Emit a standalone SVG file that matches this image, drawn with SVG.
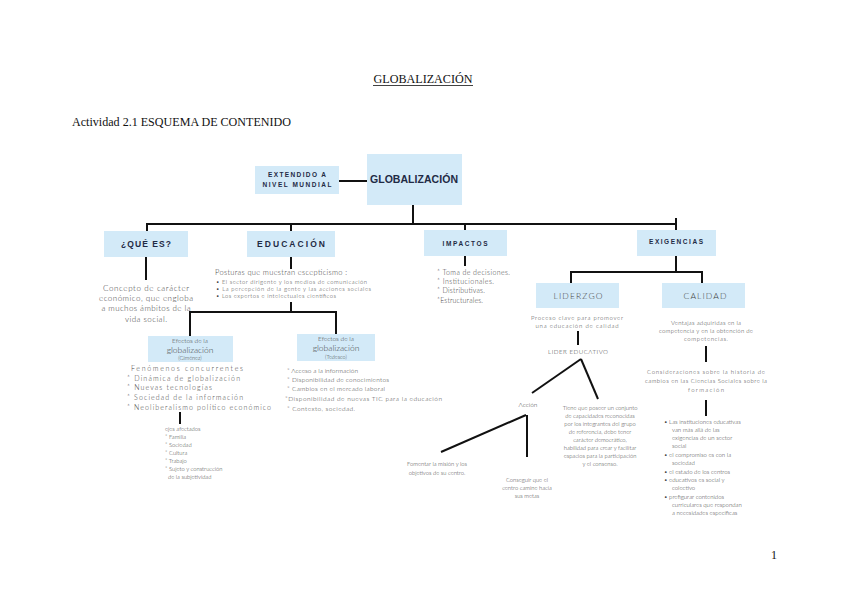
<svg xmlns="http://www.w3.org/2000/svg" width="848" height="600" viewBox="0 0 848 600">
<style>
.box{fill:#d3eaf8}
.lbl{font-family:"Liberation Sans",Arial,sans-serif;font-weight:bold;fill:#1f2b45;text-anchor:middle}
.thin{font-family:"Lato","Open Sans",sans-serif;font-weight:300;fill:#404040}
.mid{text-anchor:middle}
.ln{stroke:#111;stroke-width:2;fill:none}
.tm{font-family:"Liberation Serif","Times New Roman",serif;fill:#111}
</style>
<rect width="848" height="600" fill="#fff"/>
<g id="header">
<text class="tm" x="423" y="83" font-size="13" text-anchor="middle" textLength="99" lengthAdjust="spacingAndGlyphs">GLOBALIZACIÓN</text>
<line x1="373" y1="85.5" x2="473" y2="85.5" stroke="#111" stroke-width="0.8"/>
<text class="tm" x="72" y="126" font-size="13" textLength="219" lengthAdjust="spacingAndGlyphs">Actividad 2.1 ESQUEMA DE CONTENIDO</text>
<text class="tm" x="771" y="559" font-size="12">1</text>
</g>
<g id="connectors">
<line class="ln" x1="339" y1="181" x2="367" y2="181"/>
<line class="ln" x1="413" y1="205" x2="413" y2="224"/>
<line class="ln" x1="146" y1="224" x2="677" y2="224"/>
<line class="ln" x1="147" y1="223" x2="147" y2="231"/>
<line class="ln" x1="291" y1="223" x2="291" y2="231"/>
<line class="ln" x1="465" y1="223" x2="465" y2="230"/>
<line class="ln" x1="676" y1="218" x2="676" y2="230"/>
<line class="ln" x1="146" y1="257" x2="146" y2="280"/>
<line class="ln" x1="291" y1="257" x2="291" y2="269"/>
<line class="ln" x1="465" y1="256" x2="465" y2="266"/>
<line class="ln" x1="676" y1="256" x2="676" y2="272"/>
<line class="ln" x1="571" y1="272" x2="702" y2="272"/>
<line class="ln" x1="571" y1="271" x2="571" y2="283"/>
<line class="ln" x1="702" y1="271" x2="702" y2="283"/>
<line class="ln" x1="291" y1="302" x2="291" y2="312"/>
<line class="ln" x1="190" y1="312" x2="337" y2="312"/>
<line class="ln" x1="190" y1="311" x2="190" y2="336"/>
<line class="ln" x1="336" y1="311" x2="336" y2="334"/>
<line class="ln" x1="180" y1="412" x2="180" y2="424"/>
<line class="ln" x1="578" y1="331" x2="578" y2="345"/>
<line class="ln" x1="706" y1="346" x2="706" y2="362"/>
<line class="ln" x1="706" y1="400" x2="706" y2="416"/>
<line class="ln" x1="581" y1="359" x2="532" y2="393"/>
<line class="ln" x1="581" y1="359" x2="598" y2="399"/>
<line class="ln" x1="526" y1="415" x2="441" y2="452"/>
<line class="ln" x1="527" y1="415" x2="527" y2="457"/>
</g>
<g id="n-extendido">
<rect class="box" x="255" y="166" width="84" height="28"/>
<text class="lbl" x="297" y="177" font-size="6.5" textLength="58">EXTENDIDO A</text>
<text class="lbl" x="297" y="187" font-size="6.5" textLength="69">NIVEL MUNDIAL</text>
</g>
<g id="n-globalizacion">
<rect class="box" x="367" y="154" width="95" height="51"/>
<text class="lbl" x="414" y="183" font-size="10.5" textLength="88">GLOBALIZACIÓN</text>
</g>
<g id="n-quees">
<rect class="box" x="104" y="231" width="84" height="26"/>
<text class="lbl" x="146" y="247" font-size="8.5" textLength="50">¿QUÉ ES?</text>
<g class="thin mid" font-size="8">
<text x="146" y="291" textLength="86">Concepto de carácter</text>
<text x="146" y="301" textLength="94">económico, que engloba</text>
<text x="146" y="311" textLength="89">a muchos ámbitos de la</text>
<text x="146" y="322" textLength="42">vida social.</text>
</g>
</g>
<g id="n-educacion">
<rect class="box" x="247" y="231" width="88" height="26"/>
<text class="lbl" x="291" y="247" font-size="8.5" textLength="68">EDUCACIÓN</text>
<g class="thin" font-size="7.5">
<text x="215" y="275" textLength="132">Posturas que muestran escepticismo :</text>
</g>
<g class="thin" font-size="5.8">
<text x="216" y="284" textLength="151">•  El sector dirigente y los medios de comunicación</text>
<text x="216" y="291" textLength="155">•  La percepción de la gente y las acciones sociales</text>
<text x="216" y="298" textLength="120">•  Los expertos e intelectuales científicos</text>
</g>
</g>
<g id="n-impactos">
<rect class="box" x="424" y="230" width="83" height="26"/>
<text class="lbl" x="465" y="246" font-size="6.5" textLength="45">IMPACTOS</text>
<g class="thin" font-size="7">
<text x="437" y="275" textLength="73">* Toma de decisiones.</text>
<text x="437" y="284" textLength="57">*  Institucionales.</text>
<text x="437" y="293" textLength="48">* Distributivas.</text>
<text x="437" y="303" textLength="46">*Estructurales.</text>
</g>
</g>
<g id="n-exigencias">
<rect class="box" x="637" y="230" width="79" height="26"/>
<text class="lbl" x="676" y="244" font-size="6.5" textLength="54">EXIGENCIAS</text>
</g>
<g id="n-liderazgo">
<rect class="box" x="536" y="283" width="83" height="25"/>
<text class="thin mid" x="578" y="299" font-size="8.5" textLength="49">LIDERZGO</text>
<g class="thin mid" font-size="6">
<text x="577" y="320" textLength="92">Proceso clave para promover</text>
<text x="577" y="328" textLength="83">una educación de calidad</text>
</g>
<text class="thin mid" x="578" y="354" font-size="6.2" textLength="60">LIDER EDUCATIVO</text>
</g>
<g id="n-calidad">
<rect class="box" x="662" y="283" width="83" height="25"/>
<text class="thin mid" x="705" y="299" font-size="8.5" textLength="43">CALIDAD</text>
<g class="thin mid" font-size="6">
<text x="706" y="325" textLength="70">Ventajas adquiridas en la</text>
<text x="706" y="333" textLength="94">competencia y en la obtención de</text>
<text x="706" y="341" textLength="44">competencias.</text>
</g>
<g class="thin mid" font-size="6">
<text x="706" y="374" textLength="118">Consideraciones sobre la historia de</text>
<text x="706" y="383" textLength="122">cambios en las Ciencias Sociales sobre la</text>
<text x="706" y="392" textLength="36">formación</text>
</g>
<g class="thin" font-size="6">
<text x="664" y="424">•  Las instituciones educativas</text>
<text x="672" y="432">van más allá de las</text>
<text x="672" y="440">exigencias de un sector</text>
<text x="672" y="448">social</text>
<text x="664" y="457">•  el compromiso es con la</text>
<text x="672" y="465">sociedad</text>
<text x="664" y="474">•  el estado de los centros</text>
<text x="664" y="482">•  educativos es social y</text>
<text x="672" y="490">colectivo</text>
<text x="664" y="499">•  prefigurar contenidos</text>
<text x="672" y="507">curriculares que respondan</text>
<text x="672" y="515">a necesidades específicas</text>
</g>
</g>
<g id="n-accion">
<text class="thin mid" x="528" y="407" font-size="6.5">Acción</text>
<g class="thin mid" font-size="5.8">
<text x="437" y="466">Fomentar la misión y los</text>
<text x="437" y="475">objetivos de su centro.</text>
<text x="527" y="482">Conseguir que el</text>
<text x="527" y="490">centro camine hacia</text>
<text x="527" y="498">sus metas</text>
</g>
</g>
<g id="n-lider-texto" class="thin mid" font-size="5.8">
<text x="600" y="410">Tiene que poseer un conjunto</text>
<text x="600" y="418">de capacidades reconocidas</text>
<text x="600" y="426">por los integrantes del grupo</text>
<text x="600" y="434">de referencia, debe tener</text>
<text x="600" y="442">carácter democrático,</text>
<text x="600" y="450">habilidad para crear y facilitar</text>
<text x="600" y="458">espacios para la participación</text>
<text x="600" y="466">y el consenso.</text>
</g>
<g id="n-efectos-gimenez">
<rect class="box" x="148" y="336" width="85" height="26"/>
<g class="thin mid">
<text x="190" y="343" font-size="6.5">Efectos de la</text>
<text x="190" y="353" font-size="8.5">globalización</text>
<text x="190" y="360" font-size="5.5">(Giménez)</text>
</g>
<g class="thin" font-size="7">
<text x="131" y="371" textLength="112">Fenómenos concurrentes</text>
<text x="127" y="381" textLength="113">*  Dinámica de globalización</text>
<text x="127" y="390" textLength="85">*  Nuevas tecnologías</text>
<text x="127" y="400" textLength="116">*  Sociedad de la información</text>
<text x="127" y="410" textLength="144">*  Neoliberalismo político económico</text>
</g>
<g class="thin" font-size="5.8">
<text x="165" y="431">ejes afectados</text>
<text x="165" y="439">* Familia</text>
<text x="165" y="447">* Sociedad</text>
<text x="165" y="455">* Cultura</text>
<text x="165" y="463">* Trabajo</text>
<text x="165" y="471">* Sujeto y construcción</text>
<text x="168" y="479">de la subjetividad</text>
</g>
</g>
<g id="n-efectos-tedesco">
<rect class="box" x="297" y="334" width="78" height="27"/>
<g class="thin mid">
<text x="336" y="341" font-size="6.5">Efectos de la</text>
<text x="336" y="351" font-size="8.5">globalización</text>
<text x="336" y="359" font-size="5.5">(Tedesco)</text>
</g>
<g class="thin" font-size="6.5">
<text x="287" y="373" textLength="71">* Acceso a la información</text>
<text x="287" y="382" textLength="102">*  Disponibilidad de conocimientos</text>
<text x="287" y="391" textLength="98">* Cambios en el mercado laboral</text>
<text x="285" y="401" textLength="157">*Disponibilidad de nuevas TIC para la educación</text>
<text x="287" y="411" textLength="68">* Contexto, sociedad.</text>
</g>
</g>
</svg>
